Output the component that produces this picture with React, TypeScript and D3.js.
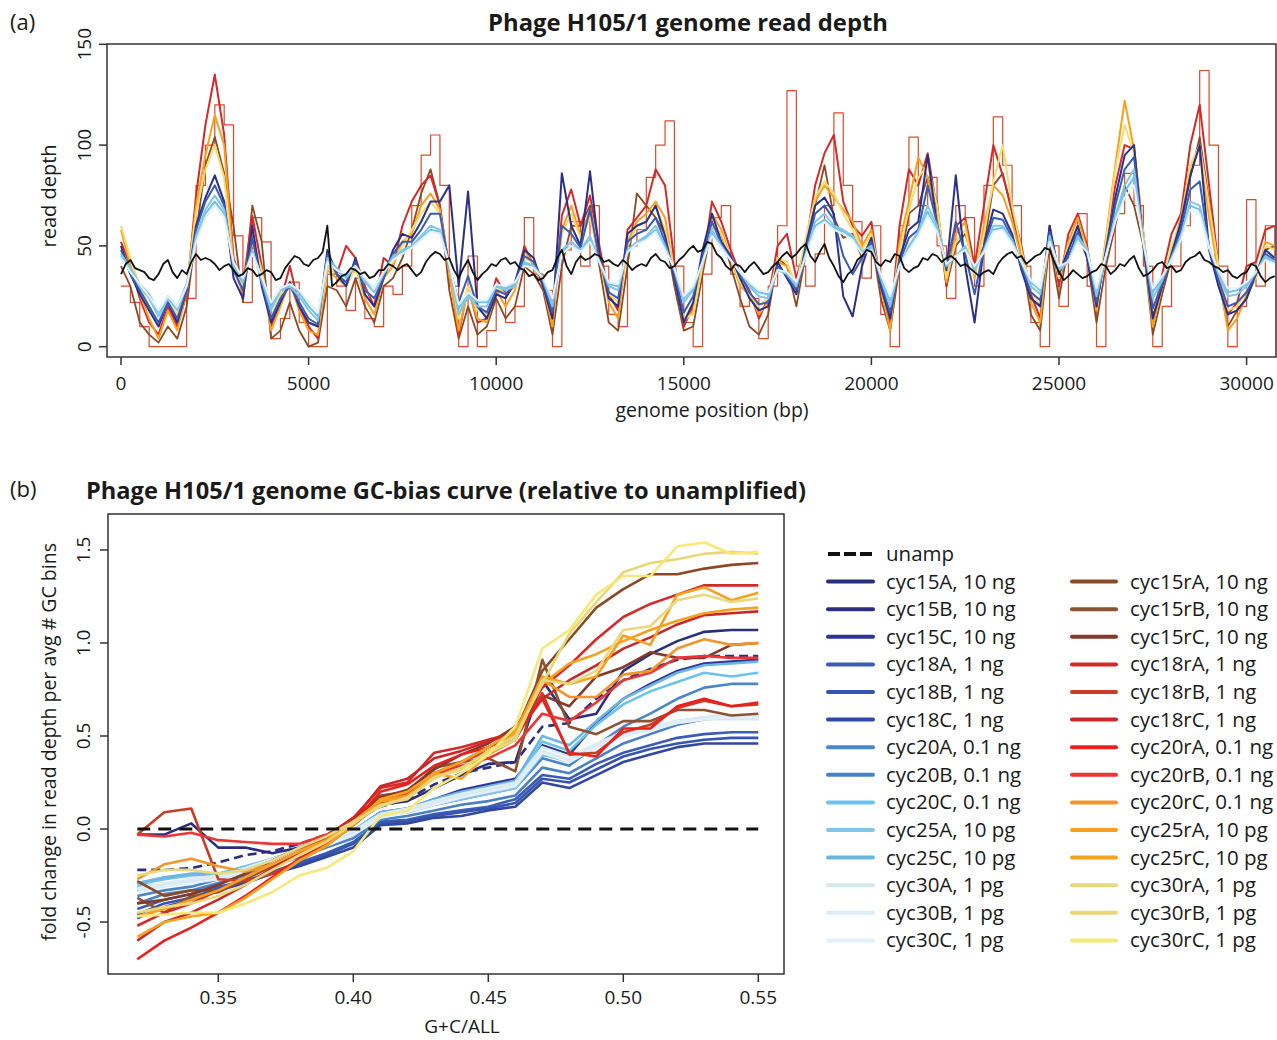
import React from "react";
import * as d3 from "d3";

const FONT = "'Open Sans', 'Noto Sans', sans-serif";
const SAMPLE_STEP = 250; // bp between amplified read-depth samples
const UNAMP_STEP = 125;  // bp between unamplified read-depth samples

// ---------- Panel (a): read depth ----------
const depthUnamp = [36,41,43,39,38,37,34,33,36,41,43,37,34,38,36,42,46,43,44,43,
 41,38,40,41,38,35,36,39,38,35,36,38,37,33,34,39,42,45,44,41,
 40,43,44,47,60,30,32,35,36,39,38,36,37,34,35,38,38,41,40,38,
 40,41,38,35,37,42,45,47,46,43,44,38,34,39,43,37,33,36,38,41,
 40,43,44,41,42,39,38,35,36,33,34,37,38,44,48,40,36,42,45,43,
 44,46,45,42,43,41,40,43,41,38,40,41,40,44,46,43,42,39,40,43,
 45,48,50,47,48,52,51,46,44,40,38,41,40,37,40,42,39,36,37,40,
 42,45,47,44,46,49,51,45,42,47,51,44,40,35,32,36,38,43,45,48,
 47,42,40,43,42,46,45,39,37,39,40,44,43,46,45,42,44,45,43,40,
 41,39,37,35,37,38,36,41,44,46,47,44,45,41,43,45,46,49,48,42,
 37,33,35,38,36,34,35,37,38,41,40,36,38,41,40,43,45,39,35,36,
 38,41,42,39,40,37,38,42,44,45,47,43,42,40,39,37,38,35,34,36,
 37,41,40,35,32,34,35];
const depthCyc25A = [45,38,30,24,15,24,18,30,55,68,
 75,68,40,32,48,33,18,28,30,25,
 18,13,43,38,34,40,32,27,36,44,
 48,50,55,60,58,40,16,25,20,20,
 30,28,30,42,40,33,20,48,52,48,
 55,42,30,28,48,52,55,60,50,38,
 22,28,42,58,50,43,37,30,25,24,
 38,36,30,46,62,66,60,58,55,47,
 50,34,20,40,50,57,70,60,40,45,
 50,38,48,60,60,53,42,30,26,55,
 38,42,55,48,25,45,65,80,88,52,
 24,33,44,55,72,70,50,36,25,26,
 30,37,45,42];
const depthCyc15A = [50,36,26,18,10,22,12,28,60,74,
 85,72,34,24,60,30,12,22,32,20,
 12,10,48,36,30,44,26,20,34,48,
 56,54,62,72,72,80,30,77,20,14,
 26,24,32,48,44,30,14,86,60,50,
 87,46,24,20,56,60,62,70,55,34,
 12,22,48,66,52,45,34,24,18,20,
 42,34,26,50,70,74,66,25,15,40,
 54,30,14,44,58,62,95,60,38,85,
 40,12,50,68,66,56,38,24,20,60,
 36,48,60,44,20,48,74,95,100,50,
 14,30,46,62,85,100,48,30,16,18,
 24,36,48,44];
const depthCyc18rB = [30,22,10,0,0,0,0,24,80,100,
 120,110,55,22,64,52,4,14,32,12,
 0,0,36,30,18,34,14,10,30,26,
 40,70,95,105,80,30,0,45,0,8,
 28,12,20,64,36,28,0,48,62,40,
 70,40,16,10,50,58,84,100,112,40,
 12,0,36,64,70,36,20,24,4,30,
 60,127,40,30,46,70,116,80,62,34,
 60,16,0,60,104,70,84,50,24,70,
 64,30,80,114,90,70,40,12,0,50,
 20,54,66,30,0,40,66,86,70,40,
 0,20,40,60,90,137,100,40,0,20,
 73,30,60,45];
const depthCyc18rA = [52,40,24,12,6,20,10,26,75,110,
 135,105,44,30,65,40,10,22,40,20,
 10,4,40,36,50,44,30,20,44,40,
 60,72,80,85,70,38,6,30,12,14,
 34,26,30,50,40,30,12,65,78,60,
 75,50,26,18,58,64,70,88,80,42,
 10,20,40,72,62,48,36,28,14,24,
 50,56,34,50,80,96,105,72,60,55,
 62,30,10,60,88,80,96,68,30,60,
 64,40,70,100,85,68,50,26,14,60,
 30,56,66,50,20,52,80,100,98,56,
 14,36,56,66,100,120,80,40,16,22,
 40,42,58,60];
const depthCyc25rA = [58,40,26,14,4,18,8,28,70,95,
 115,100,40,26,52,36,8,20,32,18,
 8,6,38,34,30,40,24,16,34,40,
 52,56,70,76,68,36,8,28,14,12,
 28,20,28,48,40,30,10,58,70,55,
 68,44,22,14,52,62,66,72,64,36,
 12,18,42,66,58,44,30,26,16,22,
 42,40,28,52,72,80,74,68,62,50,
 58,30,8,52,72,94,84,64,32,56,
 62,34,60,80,75,62,44,22,12,58,
 34,52,64,48,18,54,90,122,98,50,
 10,30,48,64,90,100,64,36,8,14,
 26,34,52,50];
const depthCyc30rC = [60,44,30,20,10,22,16,30,66,88,
 100,84,38,30,54,38,14,26,30,22,
 12,10,40,36,32,38,28,24,36,42,
 50,58,66,72,66,40,14,30,18,16,
 30,26,30,44,42,32,18,56,66,54,
 64,44,26,22,50,60,62,70,58,38,
 14,16,40,60,56,44,32,26,20,24,
 44,42,30,54,74,82,76,66,58,48,
 56,32,16,48,68,84,90,70,34,52,
 58,36,56,82,100,70,48,28,20,56,
 34,50,60,48,24,52,88,110,96,56,
 18,32,50,62,90,100,70,40,18,20,
 28,34,50,48];
const depthCyc15rA = [40,30,12,6,2,10,4,20,56,90,
 104,86,60,22,70,52,4,8,22,8,
 0,2,30,28,20,34,20,12,30,34,
 44,58,76,88,70,28,4,20,6,10,
 24,14,20,40,36,28,6,40,60,60,
 70,40,12,8,40,76,70,64,56,30,
 8,10,36,60,56,40,24,10,6,16,
 44,40,20,46,70,90,64,54,56,44,
 54,24,8,40,66,70,84,72,30,50,
 56,40,50,80,86,66,46,16,8,52,
 24,50,56,44,12,40,60,80,70,50,
 6,26,44,60,84,104,72,34,10,18,
 24,36,48,50];
const depthCyc18A = [48,36,28,20,12,22,14,28,58,72,
 80,70,38,28,54,32,14,24,30,22,
 14,11,46,36,32,42,28,24,34,46,
 52,52,58,66,66,40,22,35,20,17,
 28,26,31,45,42,32,17,60,56,49,
 68,44,27,24,52,56,58,64,52,36,
 17,25,45,62,51,44,36,27,21,22,
 40,35,28,48,66,70,63,45,36,44,
 52,32,17,42,54,58,80,61,39,62,
 46,26,49,64,63,54,40,27,23,57,
 37,45,57,46,22,46,70,88,94,51,
 19,31,45,58,78,82,49,33,20,22,
 27,36,46,43];
const depthCyc20C = [46,39,31,26,17,25,20,31,54,66,
 72,66,41,34,47,34,20,29,31,27,
 20,15,44,39,35,40,33,29,37,45,
 47,50,54,58,57,41,19,26,22,22,
 31,29,31,41,40,34,22,47,50,48,
 53,42,31,30,47,51,54,58,49,39,
 24,29,42,56,49,43,37,31,27,26,
 38,37,31,45,60,63,59,57,54,47,
 49,35,23,40,49,56,67,58,41,45,
 49,39,47,58,59,52,42,32,28,53,
 39,42,54,48,27,45,63,77,84,52,
 27,34,44,54,70,68,49,37,27,28,
 31,37,44,42];
const depthCyc30B = [44,37,31,25,18,25,20,30,52,64,
 70,64,42,34,46,35,22,29,31,28,
 22,17,42,38,36,40,34,29,37,43,
 46,49,53,57,56,41,21,27,23,23,
 31,30,32,40,39,34,24,46,50,47,
 52,42,32,31,47,51,53,57,48,39,
 25,30,42,55,49,43,37,32,28,27,
 38,37,32,45,58,62,58,56,53,46,
 48,36,25,40,48,55,65,57,41,45,
 48,40,47,57,58,51,42,33,29,52,
 40,42,52,47,29,45,62,74,80,51,
 29,35,43,53,68,66,49,38,29,29,
 32,37,43,41];

const depthXTicks = [0, 5000, 10000, 15000, 20000, 25000, 30000];
const depthYTicks = [0, 50, 100, 150];

// ---------- Panel (b): GC-bias curves ----------
const gcBins = [0.32,0.33,0.34,0.35,0.36,0.37,0.38,0.39,0.40,0.41,0.42,0.43,0.44,0.45,0.46,0.47,0.48,0.49,0.50,0.51,0.52,0.53,0.54,0.55];
const gcUnamp = [0,0,0,0,0,0,0,0,0,0,0,0,0,0,0,0,0,0,0,0,0,0,0,0];
const gc15A = [-0.03,-0.03,0.03,-0.10,-0.10,-0.13,-0.10,-0.05,0.03,0.13,0.15,0.22,0.29,0.35,0.36,0.80,0.59,0.62,0.85,0.94,1.01,1.06,1.07,1.07];
const gc15B = [-0.22,-0.22,-0.21,-0.18,-0.14,-0.12,-0.08,-0.03,0.04,0.12,0.16,0.24,0.30,0.33,0.36,0.55,0.57,0.70,0.80,0.86,0.91,0.93,0.93,0.93];
const gc15C = [-0.33,-0.30,-0.28,-0.25,-0.21,-0.16,-0.12,-0.07,-0.01,0.09,0.11,0.16,0.21,0.24,0.27,0.45,0.40,0.57,0.70,0.78,0.85,0.89,0.90,0.91];
const gc18A = [-0.43,-0.38,-0.35,-0.31,-0.28,-0.23,-0.18,-0.13,-0.07,0.04,0.05,0.08,0.10,0.12,0.16,0.29,0.27,0.35,0.41,0.45,0.49,0.51,0.52,0.52];
const gc18B = [-0.46,-0.40,-0.37,-0.32,-0.29,-0.24,-0.19,-0.14,-0.08,0.03,0.04,0.07,0.09,0.11,0.14,0.27,0.25,0.32,0.39,0.43,0.46,0.48,0.49,0.49];
const gc18C = [-0.48,-0.42,-0.38,-0.33,-0.29,-0.24,-0.20,-0.15,-0.10,0.02,0.03,0.06,0.07,0.10,0.12,0.25,0.22,0.29,0.36,0.40,0.44,0.46,0.46,0.46];
const gc20A = [-0.36,-0.33,-0.31,-0.27,-0.23,-0.18,-0.13,-0.08,-0.03,0.07,0.09,0.13,0.16,0.19,0.22,0.38,0.34,0.45,0.55,0.62,0.70,0.76,0.78,0.78];
const gc20B = [-0.40,-0.35,-0.33,-0.29,-0.25,-0.20,-0.15,-0.10,-0.05,0.05,0.07,0.10,0.13,0.15,0.18,0.33,0.30,0.38,0.46,0.51,0.56,0.59,0.60,0.60];
const gc20C = [-0.30,-0.27,-0.25,-0.24,-0.20,-0.16,-0.12,-0.08,-0.02,0.08,0.10,0.15,0.19,0.22,0.25,0.47,0.42,0.56,0.67,0.74,0.79,0.84,0.82,0.84];
const gc25A = [-0.31,-0.30,-0.27,-0.25,-0.22,-0.17,-0.13,-0.09,-0.03,0.07,0.09,0.13,0.16,0.19,0.22,0.40,0.36,0.44,0.50,0.54,0.58,0.60,0.61,0.61];
const gc25C = [-0.29,-0.26,-0.24,-0.24,-0.21,-0.16,-0.11,-0.07,-0.01,0.09,0.11,0.16,0.20,0.23,0.26,0.50,0.45,0.58,0.70,0.77,0.84,0.88,0.89,0.90];
const gc30A = [-0.33,-0.30,-0.28,-0.26,-0.22,-0.17,-0.13,-0.08,-0.02,0.07,0.10,0.14,0.18,0.21,0.24,0.42,0.37,0.45,0.51,0.54,0.57,0.59,0.59,0.59];
const gc30B = [-0.32,-0.29,-0.27,-0.25,-0.21,-0.16,-0.12,-0.07,-0.01,0.08,0.11,0.15,0.19,0.22,0.25,0.44,0.39,0.46,0.52,0.55,0.58,0.60,0.61,0.61];
const gc30C = [-0.34,-0.31,-0.29,-0.27,-0.23,-0.18,-0.14,-0.09,-0.03,0.06,0.09,0.13,0.17,0.20,0.23,0.41,0.36,0.44,0.50,0.53,0.57,0.59,0.60,0.60];
const gc15rA = [-0.28,-0.36,-0.33,-0.33,-0.27,-0.20,-0.13,-0.06,0.04,0.16,0.20,0.30,0.36,0.44,0.52,0.85,1.02,1.19,1.29,1.37,1.37,1.40,1.42,1.43];
const gc15rB = [-0.37,-0.45,-0.36,-0.34,-0.27,-0.19,-0.12,-0.05,0.05,0.18,0.20,0.33,0.36,0.38,0.31,0.91,0.55,0.51,0.58,0.58,0.64,0.64,0.61,0.62];
const gc15rC = [-0.40,-0.38,-0.35,-0.30,-0.24,-0.17,-0.10,-0.04,0.06,0.17,0.21,0.32,0.40,0.46,0.55,0.72,0.66,0.82,0.87,0.95,0.92,0.92,0.99,1.00];
const gc18rA = [-0.52,-0.45,-0.40,-0.33,-0.26,-0.19,-0.12,-0.04,0.06,0.22,0.25,0.41,0.44,0.48,0.52,0.76,0.88,1.02,1.14,1.21,1.26,1.31,1.31,1.31];
const gc18rB = [-0.03,0.09,0.11,-0.27,-0.28,-0.24,-0.17,-0.09,0.02,0.14,0.19,0.28,0.36,0.42,0.48,0.73,0.40,0.41,0.52,0.56,0.65,0.69,0.66,0.67];
const gc18rC = [-0.60,-0.50,-0.45,-0.38,-0.30,-0.21,-0.13,-0.05,0.05,0.23,0.27,0.38,0.42,0.47,0.52,0.70,0.80,0.88,0.97,1.03,1.10,1.15,1.16,1.17];
const gc20rA = [-0.70,-0.60,-0.53,-0.45,-0.36,-0.26,-0.16,-0.08,0.03,0.20,0.24,0.34,0.40,0.44,0.50,0.70,0.41,0.39,0.54,0.54,0.66,0.70,0.66,0.68];
const gc20rB = [-0.03,-0.04,-0.02,-0.06,-0.07,-0.08,-0.08,-0.03,0.03,0.16,0.19,0.30,0.34,0.38,0.45,0.62,0.58,0.68,0.80,0.84,0.92,0.93,0.92,0.92];
const gc20rC = [-0.27,-0.19,-0.16,-0.20,-0.23,-0.19,-0.12,-0.06,0.03,0.15,0.18,0.28,0.33,0.40,0.48,0.80,0.71,0.71,0.83,0.85,0.97,1.02,0.99,1.00];
const gc25rA = [-0.47,-0.43,-0.38,-0.33,-0.26,-0.19,-0.12,-0.06,0.04,0.15,0.17,0.30,0.27,0.40,0.52,0.82,0.78,0.82,1.04,0.99,1.26,1.30,1.23,1.27];
const gc25rC = [-0.58,-0.50,-0.47,-0.45,-0.37,-0.27,-0.17,-0.09,0.02,0.16,0.20,0.30,0.36,0.44,0.53,0.78,0.89,0.94,1.01,1.07,1.12,1.16,1.18,1.19];
const gc30rA = [-0.25,-0.22,-0.22,-0.24,-0.22,-0.17,-0.10,-0.04,0.04,0.12,0.17,0.27,0.33,0.41,0.48,0.80,0.78,0.85,1.07,1.09,1.23,1.26,1.22,1.24];
const gc30rB = [-0.45,-0.42,-0.40,-0.36,-0.30,-0.22,-0.14,-0.07,0.03,0.13,0.16,0.28,0.32,0.42,0.50,0.78,1.05,1.22,1.38,1.43,1.45,1.48,1.49,1.48];
const gc30rC = [-0.47,-0.46,-0.45,-0.45,-0.40,-0.34,-0.25,-0.21,-0.12,0.07,0.10,0.22,0.30,0.40,0.55,0.97,1.07,1.26,1.36,1.36,1.52,1.54,1.48,1.49];

const gcXTicks = [0.35, 0.40, 0.45, 0.50, 0.55];
const gcYTicks = [-0.5, 0.0, 0.5, 1.0, 1.5];

const ampLabels = ["cyc15A, 10 ng","cyc15B, 10 ng","cyc15C, 10 ng","cyc18A, 1 ng","cyc18B, 1 ng","cyc18C, 1 ng","cyc20A, 0.1 ng","cyc20B, 0.1 ng","cyc20C, 0.1 ng","cyc25A, 10 pg","cyc25C, 10 pg","cyc30A, 1 pg","cyc30B, 1 pg","cyc30C, 1 pg"];
const ampColors = ["#2a2f7c","#2b2d82","#2d3592","#3b5cb6","#3655ae","#3048a2","#4a86c8","#4a80c4","#6cc3ea","#84c4e7","#6fb5e2","#d6e8ea","#dcedf6","#e1f0fa"];
const ampValues = [gc15A, gc15B, gc15C, gc18A, gc18B, gc18C, gc20A, gc20B, gc20C, gc25A, gc25C, gc30A, gc30B, gc30C];
const rdLabels = ["cyc15rA, 10 ng","cyc15rB, 10 ng","cyc15rC, 10 ng","cyc18rA, 1 ng","cyc18rB, 1 ng","cyc18rC, 1 ng","cyc20rA, 0.1 ng","cyc20rB, 0.1 ng","cyc20rC, 0.1 ng","cyc25rA, 10 pg","cyc25rC, 10 pg","cyc30rA, 1 pg","cyc30rB, 1 pg","cyc30rC, 1 pg"];
const rdColors = ["#8b4a25","#8e5131","#843a2a","#d42a2a","#cc3b25","#c82828","#e8201e","#ec3636","#f0962a","#f8a020","#f7a11f","#e8d880","#e9d777","#f7e878"];
const rdValues = [gc15rA, gc15rB, gc15rC, gc18rA, gc18rB, gc18rC, gc20rA, gc20rB, gc20rC, gc25rA, gc25rC, gc30rA, gc30rB, gc30rC];

const depthSeries = [
  { v: depthCyc18rB, c: "#dc4a2a", w: 1.2, step: true, dx: SAMPLE_STEP },
  { v: depthCyc15rA, c: "#8b4a25", w: 1.8, step: false, dx: SAMPLE_STEP },
  { v: depthCyc18rA, c: "#d42a2a", w: 2, step: false, dx: SAMPLE_STEP },
  { v: depthCyc25rA, c: "#f8a020", w: 2, step: false, dx: SAMPLE_STEP },
  { v: depthCyc30rC, c: "#f3dc70", w: 2, step: false, dx: SAMPLE_STEP },
  { v: depthCyc15A, c: "#2b2f8a", w: 2, step: false, dx: SAMPLE_STEP },
  { v: depthCyc18A, c: "#3a5bb5", w: 2, step: false, dx: SAMPLE_STEP },
  { v: depthCyc20C, c: "#6cc3ea", w: 2, step: false, dx: SAMPLE_STEP },
  { v: depthCyc25A, c: "#84c4e7", w: 2, step: false, dx: SAMPLE_STEP },
  { v: depthCyc30B, c: "#e4f1f8", w: 2, step: false, dx: SAMPLE_STEP },
  { v: depthUnamp, c: "#111111", w: 1.8, step: false, dx: UNAMP_STEP },
];

export default function App() {
  // panel (a)
  const bA = { x0: 107, x1: 1276, y0: 44, y1: 357 };
  const xA = d3.scaleLinear().domain([0, 30000]).range([121, 1246.6]);
  const yA = d3.scaleLinear().domain([0, 150]).range([346.7, 44.3]);
  const mkA = (vals: number[], step: boolean, dx: number) =>
    d3.line<number>()
      .x((_, i) => xA(i * dx))
      .y((d) => yA(d))
      .curve(step ? d3.curveStepAfter : d3.curveLinear)(vals) || "";

  // panel (b)
  const bB = { x0: 108, x1: 784, y0: 514, y1: 974 };
  const xB = d3.scaleLinear().domain([0.35, 0.55]).range([218.3, 758.3]);
  const yB = d3.scaleLinear().domain([0, 1.5]).range([829, 550]);
  const mkB = (vals: number[]) =>
    d3.line<number>().x((_, i) => xB(gcBins[i])).y((d) => yB(d))(vals) || "";

  const axisCol = "#333";
  const txt = { fontFamily: FONT, fill: "#1a1a1a" } as const;

  const legY0 = 554, legDy = 27.6;

  return (
    <svg width={1277} height={1040} style={{ position: "absolute", left: 0, top: 0, background: "#fff" }}>
      <defs>
        <clipPath id="clipA"><rect x={bA.x0} y={bA.y0} width={bA.x1 - bA.x0} height={bA.y1 - bA.y0} /></clipPath>
        <clipPath id="clipB"><rect x={bB.x0} y={bB.y0} width={bB.x1 - bB.x0} height={bB.y1 - bB.y0} /></clipPath>
      </defs>
      <rect x={0} y={0} width={1277} height={1040} fill="#fff" />

      {/* ---------- panel (a) ---------- */}
      <text x={10} y={30} fontSize={22} {...txt}>(a)</text>
      <text x={688} y={31} fontSize={23} fontWeight={700} textAnchor="middle" textLength={400} lengthAdjust="spacingAndGlyphs" {...txt}>Phage H105/1 genome read depth</text>
      <g clipPath="url(#clipA)" fill="none" strokeLinejoin="round">
        {depthSeries.map((s, i) => (
          <path key={i} d={mkA(s.v, s.step, s.dx)} stroke={s.c} strokeWidth={s.w} />
        ))}
      </g>
      <rect x={bA.x0} y={bA.y0} width={bA.x1 - bA.x0} height={bA.y1 - bA.y0} fill="none" stroke={axisCol} strokeWidth={1.5} />
      {depthXTicks.map((t) => (
        <g key={t}>
          <line x1={xA(t)} x2={xA(t)} y1={bA.y1} y2={bA.y1 + 8} stroke={axisCol} strokeWidth={1.5} />
          <text x={xA(t)} y={390} fontSize={19} textAnchor="middle" {...txt}>{t}</text>
        </g>
      ))}
      {depthYTicks.map((t) => (
        <g key={t}>
          <line x1={bA.x0 - 8} x2={bA.x0} y1={yA(t)} y2={yA(t)} stroke={axisCol} strokeWidth={1.5} />
          <text transform={`translate(${91},${yA(t)}) rotate(-90)`} fontSize={19} textAnchor="middle" {...txt}>{t}</text>
        </g>
      ))}
      <text transform={`translate(${56},${196}) rotate(-90)`} fontSize={20} textAnchor="middle" {...txt}>read depth</text>
      <text x={712} y={417} fontSize={19.5} textAnchor="middle" {...txt}>genome position (bp)</text>

      {/* ---------- panel (b) ---------- */}
      <text x={10} y={497} fontSize={22} {...txt}>(b)</text>
      <text x={446} y={499} fontSize={23} fontWeight={700} textAnchor="middle" textLength={720} lengthAdjust="spacingAndGlyphs" {...txt}>Phage H105/1 genome GC-bias curve (relative to unamplified)</text>
      <g clipPath="url(#clipB)" fill="none" strokeLinejoin="round" strokeWidth={2.6}>
        {ampValues.map((v, i) => (
          <path key={"a" + i} d={mkB(v)} stroke={ampColors[i]} strokeDasharray={i === 1 ? "9,5" : undefined} />
        ))}
        {rdValues.map((v, i) => (
          <path key={"r" + i} d={mkB(v)} stroke={rdColors[i]} />
        ))}
        <path d={mkB(gcUnamp)} stroke="#111" strokeWidth={3} strokeDasharray="13,8" />
      </g>
      <rect x={bB.x0} y={bB.y0} width={bB.x1 - bB.x0} height={bB.y1 - bB.y0} fill="none" stroke={axisCol} strokeWidth={1.5} />
      {gcXTicks.map((t) => (
        <g key={t}>
          <line x1={xB(t)} x2={xB(t)} y1={bB.y1} y2={bB.y1 + 8} stroke={axisCol} strokeWidth={1.5} />
          <text x={xB(t)} y={1004} fontSize={19} textAnchor="middle" {...txt}>{t.toFixed(2)}</text>
        </g>
      ))}
      {gcYTicks.map((t) => (
        <g key={t}>
          <line x1={bB.x0 - 8} x2={bB.x0} y1={yB(t)} y2={yB(t)} stroke={axisCol} strokeWidth={1.5} />
          <text transform={`translate(${90},${yB(t)}) rotate(-90)`} fontSize={19} textAnchor="middle" {...txt}>{t.toFixed(1)}</text>
        </g>
      ))}
      <text transform={`translate(${56},${742}) rotate(-90)`} fontSize={19.5} textAnchor="middle" {...txt}>fold change in read depth per avg # GC bins</text>
      <text x={462} y={1033} fontSize={19} textAnchor="middle" {...txt}>G+C/ALL</text>

      {/* legend */}
      <g>
        <line x1={828} x2={873} y1={legY0} y2={legY0} stroke="#111" strokeWidth={4} strokeDasharray="12,4" />
        <text x={886} y={legY0 + 7} fontSize={20.5} {...txt}>unamp</text>
        {ampLabels.map((l, i) => {
          const y = legY0 + (i + 1) * legDy;
          return (
            <g key={l}>
              <line x1={828} x2={873} y1={y} y2={y} stroke={ampColors[i]} strokeWidth={4} strokeLinecap="round" />
              <text x={886} y={y + 7} fontSize={20.5} {...txt}>{l}</text>
            </g>
          );
        })}
        {rdLabels.map((l, i) => {
          const y = legY0 + (i + 1) * legDy;
          return (
            <g key={l}>
              <line x1={1072} x2={1116} y1={y} y2={y} stroke={rdColors[i]} strokeWidth={4} strokeLinecap="round" />
              <text x={1130} y={y + 7} fontSize={20.5} {...txt}>{l}</text>
            </g>
          );
        })}
      </g>
    </svg>
  );
}
